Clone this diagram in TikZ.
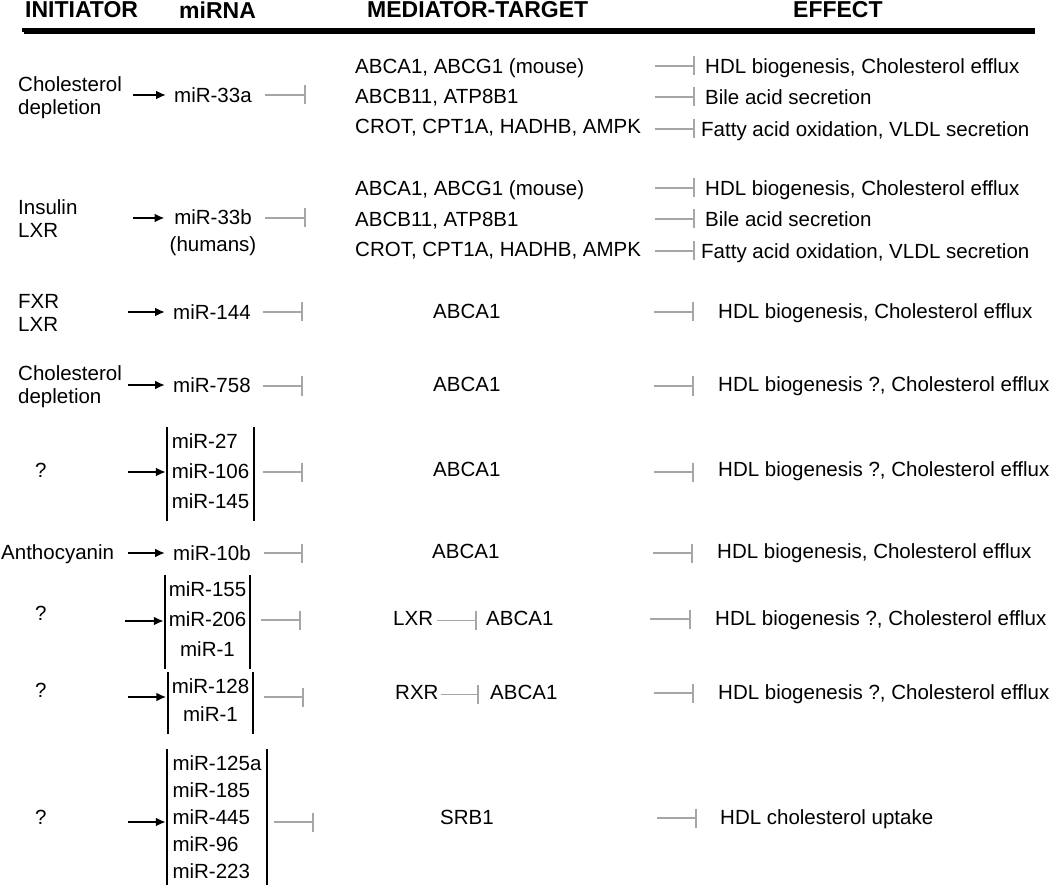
\documentclass[tikz,border=0pt]{standalone}
\usepackage{fontspec}
\setmainfont{Liberation Sans}
\usepackage{tikz}
\usetikzlibrary{arrows.meta}
\usepackage{xcolor}
\definecolor{inhgray}{HTML}{A6A6A6}
\definecolor{shade}{HTML}{9A9A9A}

\begin{document}
\begin{tikzpicture}[x=1pt,y=-1pt,
      txt/.style={inner sep=0pt,anchor=west,yshift=-2.5pt,align=left,
                  font=\fontsize{20.5}{23}\selectfont,
                  execute at begin node=\strut,execute at end node=\strut},
      hdr/.style={inner sep=0pt,anchor=west,font=\fontsize{23}{27}\selectfont\bfseries},
      grp/.style={inner xsep=0pt,inner ysep=6pt,anchor=north,
                  font=\fontsize{20.5}{23}\selectfont,execute at begin node=\strut},
      act/.style={-{Latex[length=10pt,width=9pt]},line width=2.3pt,shorten >=8pt},
      inh/.style={inhgray,line width=1.8pt,-{Bar[width=19pt,line width=1.8pt]}},
      brk/.style={line width=2pt}]
    \useasboundingbox (0,0) rectangle (1050,885);

    % header
    \node[hdr] (hi) at (25,10) {INITIATOR};
    \node[hdr] (hm) at (179,10) {miRNA};
    \node[hdr] (hmt) at (367,10) {MEDIATOR-TARGET};
    \node[hdr] (he) at (793,10) {EFFECT};
    \draw[line width=3pt,shade] (24,33) -- (1035,33);
    \draw[line width=4.5pt] (22,30) -- (1035,30);

    % miR-33a
    \node[txt] (i1) at (18,96.5) {Cholesterol\\depletion};
    \coordinate (t1) at (133,95);
    \node[txt] (m1) at (174,95) {miR-33a};
    \coordinate (h1) at (306,95);
    \draw[act] (t1) -- (t1 -| m1.west);
    \draw[inh,shorten <=13pt] (m1.east |- h1) -- (h1);
    \node[txt] (a11) at (355,66) {ABCA1, ABCG1 (mouse)};
    \node[txt] (a12) at (355,96) {ABCB11, ATP8B1};
    \node[txt] (a13) at (355,126) {CROT, CPT1A, HADHB, AMPK};
    \node[txt] (e11) at (705,66) {HDL biogenesis, Cholesterol efflux};
    \node[txt] (e12) at (705,97) {Bile acid secretion};
    \node[txt] (e13) at (701,129) {Fatty acid oxidation, VLDL secretion};
    \coordinate (p11) at (655,66);
    \coordinate (p12) at (655,97);
    \coordinate (p13) at (655,129);
    \draw[inh,shorten >=10pt] (p11) -- (p11 -| e11.west);
    \draw[inh,shorten >=10pt] (p12) -- (p12 -| e12.west);
    \draw[inh,shorten >=6pt] (p13) -- (p13 -| e13.west);

    % miR-33b
    \node[txt] (i2) at (18,220) {Insulin\\LXR};
    \coordinate (t2) at (133,218);
    \node[txt,anchor=center,align=center] (m2) at (213,231.5) {miR-33b\\[4pt](humans)};
    \coordinate (h2) at (306,218);
    \draw[act,shorten >=5pt] (t2) -- (t2 -| m2.west);
    \draw[inh,shorten <=9pt] (m2.east |- h2) -- (h2);
    \node[txt] (a21) at (355,188) {ABCA1, ABCG1 (mouse)};
    \node[txt] (a22) at (355,219) {ABCB11, ATP8B1};
    \node[txt] (a23) at (355,249) {CROT, CPT1A, HADHB, AMPK};
    \node[txt] (e21) at (705,188) {HDL biogenesis, Cholesterol efflux};
    \node[txt] (e22) at (705,219) {Bile acid secretion};
    \node[txt] (e23) at (701,251) {Fatty acid oxidation, VLDL secretion};
    \coordinate (p21) at (655,188);
    \coordinate (p22) at (655,219);
    \coordinate (p23) at (655,251);
    \draw[inh,shorten >=10pt] (p21) -- (p21 -| e21.west);
    \draw[inh,shorten >=10pt] (p22) -- (p22 -| e22.west);
    \draw[inh,shorten >=6pt] (p23) -- (p23 -| e23.west);

    % miR-144
    \node[txt] (i3) at (18,313.5) {FXR\\LXR};
    \coordinate (t3) at (128,312);
    \node[txt] (m3) at (173,312) {miR-144};
    \coordinate (h3) at (303,312);
    \draw[act] (t3) -- (t3 -| m3.west);
    \draw[inh,shorten <=12pt] (m3.east |- h3) -- (h3);
    \node[txt] (a3) at (433,311) {ABCA1};
    \coordinate (p3) at (654,312);
    \node[txt] (e3) at (718,311) {HDL biogenesis, Cholesterol efflux};
    \draw[inh,shorten >=24pt] (p3) -- (p3 -| e3.west);

    % miR-758
    \node[txt] (i4) at (18,386) {Cholesterol\\depletion};
    \coordinate (t4) at (128,385);
    \node[txt] (m4) at (173,385) {miR-758};
    \coordinate (h4) at (303,386);
    \draw[act] (t4) -- (t4 -| m4.west);
    \draw[inh,shorten <=12pt] (m4.east |- h4) -- (h4);
    \node[txt] (a4) at (433,384) {ABCA1};
    \coordinate (p4) at (654,386);
    \node[txt] (e4) at (718,384) {HDL biogenesis ?, Cholesterol efflux};
    \draw[inh,shorten >=24pt] (p4) -- (p4 -| e4.west);

    % miR-27/106/145
    \node[txt] (i5) at (35,470) {?};
    \coordinate (t5) at (128,472);
    \node[grp,minimum width=87pt,align=left] (g5) at (210.5,427) {miR-27\\[7pt]miR-106\\[7pt]miR-145};
    \draw[brk] (g5.north west) -- (g5.south west) (g5.north east) -- (g5.south east);
    \coordinate (h5) at (303,472);
    \draw[act,shorten >=1pt] (t5) -- (t5 -| g5.west);
    \draw[inh,shorten <=9pt] (g5.east |- h5) -- (h5);
    \node[txt] (a5) at (433,469) {ABCA1};
    \coordinate (p5) at (654,472);
    \node[txt] (e5) at (718,469) {HDL biogenesis ?, Cholesterol efflux};
    \draw[inh,shorten >=24pt] (p5) -- (p5 -| e5.west);

    % miR-10b
    \node[txt] (i6) at (1,552) {Anthocyanin};
    \coordinate (t6) at (128,553);
    \node[txt] (m6) at (173,553) {miR-10b};
    \coordinate (h6) at (303,553);
    \draw[act] (t6) -- (t6 -| m6.west);
    \draw[inh,shorten <=13pt] (m6.east |- h6) -- (h6);
    \node[txt] (a6) at (432,551) {ABCA1};
    \coordinate (p6) at (653,553);
    \node[txt] (e6) at (717,551) {HDL biogenesis, Cholesterol efflux};
    \draw[inh,shorten >=24pt] (p6) -- (p6 -| e6.west);

    % miR-155/206/1
    \node[txt] (i7) at (35,613) {?};
    \coordinate (t7) at (125,621);
    \node[grp,minimum width=85pt,align=center] (g7) at (207.5,575) {miR-155\\[7pt]miR-206\\[7pt]miR-1};
    \draw[brk] (g7.north west) -- (g7.south west) (g7.north east) -- (g7.south east);
    \coordinate (h7) at (301,620);
    \draw[act,shorten >=1pt] (t7) -- (t7 -| g7.west);
    \draw[inh,shorten <=11pt] (g7.east |- h7) -- (h7);
    \node[txt] (l7) at (393,618) {LXR};
    \node[txt] (a7) at (486,618) {ABCA1};
    \draw[inh,shorten <=4pt,shorten >=9pt] (l7) -- (a7);
    \coordinate (p7) at (650,619);
    \node[txt] (e7) at (715,618) {HDL biogenesis ?, Cholesterol efflux};
    \draw[inh,shorten >=24pt] (p7) -- (p7 -| e7.west);

    % miR-128/1
    \node[txt] (i8) at (35,690) {?};
    \coordinate (t8) at (128,697);
    \node[grp,minimum width=85pt,align=center] (g8) at (210.5,672) {miR-128\\[5pt]miR-1};
    \draw[brk] (g8.north west) -- (g8.south west) (g8.north east) -- (g8.south east);
    \coordinate (h8) at (304,697);
    \draw[act,shorten >=1.5pt] (t8) -- (t8 -| g8.west);
    \draw[inh,shorten <=11pt] (g8.east |- h8) -- (h8);
    \node[txt] (r8) at (395,692) {RXR};
    \node[txt] (a8) at (490,692) {ABCA1};
    \draw[inh,shorten <=2pt,shorten >=11pt] (r8) -- (a8);
    \coordinate (p8) at (654,693);
    \node[txt] (e8) at (718,692) {HDL biogenesis ?, Cholesterol efflux};
    \draw[inh,shorten >=24pt] (p8) -- (p8 -| e8.west);

    % miR-125a ... miR-223
    \node[txt] (i9) at (35,817) {?};
    \coordinate (t9) at (128,822);
    \node[grp,minimum width=100pt,align=left] (g9) at (217,749) {miR-125a\\[4pt]miR-185\\[4pt]miR-445\\[4pt]miR-96\\[4pt]miR-223};
    \draw[brk] (g9.north west) -- (g9.south west) (g9.north east) -- (g9.south east);
    \coordinate (h9) at (314,822);
    \draw[act,shorten >=1pt] (t9) -- (t9 -| g9.west);
    \draw[inh,shorten <=7pt] (g9.east |- h9) -- (h9);
    \node[txt] (s9) at (440,817) {SRB1};
    \coordinate (p9) at (657,818);
    \node[txt] (e9) at (720,817) {HDL cholesterol uptake};
    \draw[inh,shorten >=23pt] (p9) -- (p9 -| e9.west);
  \end{tikzpicture}
\end{document}
